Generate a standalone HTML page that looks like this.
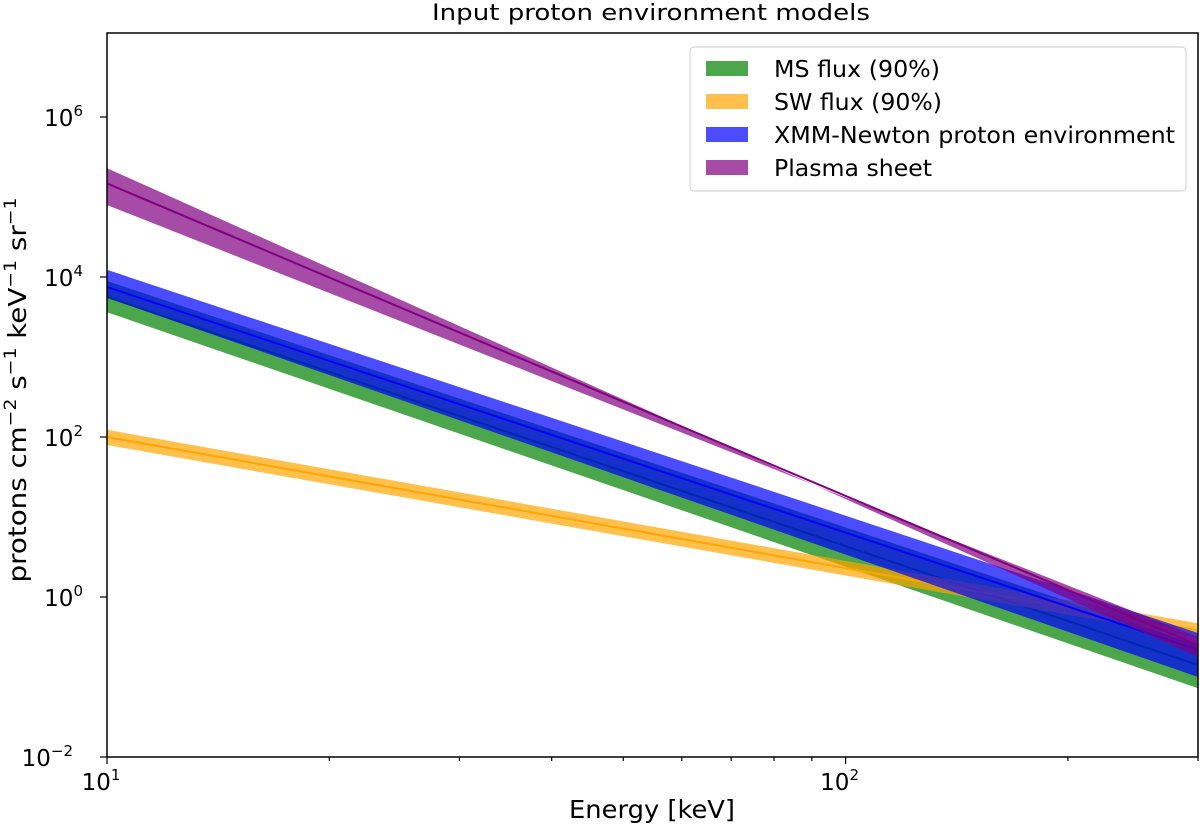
<!DOCTYPE html>
<html><head><meta charset="utf-8"><style>
body{margin:0;background:#fff;}
svg{display:block;font-family:"DejaVu Sans","Liberation Sans",sans-serif;}
</style></head><body>
<svg id="chart" width="1200" height="829">
<text x="651" y="20" font-size="22" text-anchor="middle" textLength="438" lengthAdjust="spacingAndGlyphs">Input proton environment models</text>
<g id="plot"></g>
<g id="axes"></g>
<text x="652" y="818" font-size="25" text-anchor="middle" textLength="166" lengthAdjust="spacingAndGlyphs">Energy [keV]</text>
<text transform="translate(26,390) rotate(-90)" font-size="25" text-anchor="middle" textLength="385" lengthAdjust="spacingAndGlyphs">protons cm<tspan dy="-10" font-size="17">−2</tspan><tspan dy="10"> s</tspan><tspan dy="-10" font-size="17">−1</tspan><tspan dy="10"> keV</tspan><tspan dy="-10" font-size="17">−1</tspan><tspan dy="10"> sr</tspan><tspan dy="-10" font-size="17">−1</tspan></text>
<g>
<rect x="690" y="47" width="496" height="144" rx="4" fill="#fff" stroke="#ccc"/>
<g><rect x="706" y="61" width="42" height="15" fill="#008000" fill-opacity="0.7"/><text x="774" y="77" font-size="23" textLength="166" lengthAdjust="spacingAndGlyphs">MS flux (90%)</text></g>
<g><rect x="706" y="94" width="42" height="15" fill="#ffa500" fill-opacity="0.7"/><text x="774" y="110" font-size="23" textLength="168" lengthAdjust="spacingAndGlyphs">SW flux (90%)</text></g>
<g><rect x="706" y="127" width="42" height="15" fill="#0000ff" fill-opacity="0.7"/><text x="774" y="143" font-size="23" textLength="401" lengthAdjust="spacingAndGlyphs">XMM-Newton proton environment</text></g>
<g><rect x="706" y="160" width="42" height="15" fill="#800080" fill-opacity="0.7"/><text x="774" y="176" font-size="23" textLength="158" lengthAdjust="spacingAndGlyphs">Plasma sheet</text></g>
</g>
</svg>
<script>
// energies (keV) at band endpoints
const energies = [10, 300];
// log10 flux values: [at 10 keV, at 300 keV]
const msUpper = [3.95, -0.6], msCenter = [3.75, -0.85], msLower = [3.56, -1.14];
const swUpper = [2.09, -0.33], swCenter = [2.0, -0.42], swLower = [1.9, -0.51];
const xmmUpper = [4.09, -0.45], xmmCenter = [3.875, -0.66], xmmLower = [3.74, -1.0];
const psUpper = [5.36, -0.75], psCenter = [5.17, -0.6], psLower = [4.9, -0.5];
const xTickVals = [10, 100];
const xTickLabels = ["1", "2"];
const yTickExps = [-2, 0, 2, 4, 6];

const X0 = 107, X1 = 1198, Y0 = 757, Y1 = 33;
const xMinL = 1, xMaxL = Math.log10(300);
const yMinL = -2, yMaxL = -2 + (Y0 - Y1) / 80;
const xs = v => X0 + (Math.log10(v) - xMinL) / (xMaxL - xMinL) * (X1 - X0);
const ys = l => Y0 - (l - yMinL) / (yMaxL - yMinL) * (Y0 - Y1);
const NS = "http://www.w3.org/2000/svg";
const plot = document.getElementById('plot');
const axes = document.getElementById('axes');

function band(up, lo, ce, color, name) {
  const p = document.createElementNS(NS, 'polygon');
  const pts = [[xs(energies[0]), ys(up[0])], [xs(energies[1]), ys(up[1])], [xs(energies[1]), ys(lo[1])], [xs(energies[0]), ys(lo[0])]];
  p.setAttribute('points', pts.map(a => a.join(',')).join(' '));
  p.setAttribute('fill', color);
  p.setAttribute('fill-opacity', '0.7');
  
  
  plot.appendChild(p);
  const l = document.createElementNS(NS, 'line');
  l.setAttribute('x1', xs(energies[0])); l.setAttribute('y1', ys(ce[0]));
  l.setAttribute('x2', xs(energies[1])); l.setAttribute('y2', ys(ce[1]));
  l.setAttribute('stroke', color); l.setAttribute('stroke-width', '2');
  
  
  plot.appendChild(l);
}
band(msUpper, msLower, msCenter, '#008000', 'ms-flux');
band(swUpper, swLower, swCenter, '#ffa500', 'sw-flux');
band(xmmUpper, xmmLower, xmmCenter, '#0000ff', 'xmm-newton');
band(psUpper, psLower, psCenter, '#800080', 'plasma-sheet');

const fr = document.createElementNS(NS, 'rect');
fr.setAttribute('x', X0); fr.setAttribute('y', Y1); fr.setAttribute('width', X1 - X0); fr.setAttribute('height', Y0 - Y1);
fr.setAttribute('fill', 'none'); fr.setAttribute('stroke', '#000'); fr.setAttribute('stroke-width', '1.5');


axes.appendChild(fr);

function tick(x1, y1, x2, y2) {
  const t = document.createElementNS(NS, 'line');
  t.setAttribute('x1', x1); t.setAttribute('y1', y1); t.setAttribute('x2', x2); t.setAttribute('y2', y2);
  t.setAttribute('stroke', '#000'); t.setAttribute('stroke-width', '1.2');
  
  
  axes.appendChild(t);
}
for (let d = 10; d <= 100; d *= 10) for (let m = 1; m <= 9; m++) {
  const v = d * m; if (v > 300) break;
  tick(xs(v), Y0, xs(v), Y0 + (m === 1 ? 7 : 4));
}
xTickVals.forEach((v, i) => {
  const t = document.createElementNS(NS, 'text');
  t.setAttribute('x', xs(v) - 6); t.setAttribute('y', Y0 + 33);
  t.setAttribute('font-size', '23'); t.setAttribute('text-anchor', 'middle');
  t.innerHTML = '10<tspan dy="-10" font-size="15">' + xTickLabels[i] + '</tspan>';
  
  
  axes.appendChild(t);
});
yTickExps.forEach(e => {
  tick(X0 - 7, ys(e), X0, ys(e));
  const t = document.createElementNS(NS, 'text');
  t.setAttribute('y', ys(e) + 9);
  t.setAttribute('font-size', '23');
  t.textContent = '10';
  
  
  const s = document.createElementNS(NS, 'tspan');
  s.setAttribute('dy', '-10'); s.setAttribute('font-size', '15');
  s.textContent = e < 0 ? '−' + (-e) : String(e);
  t.appendChild(s);
  t.setAttribute('x', X0 - 14 - (e < 0 ? 20 : 10));
  t.setAttribute('text-anchor', 'end');
  axes.appendChild(t);
});
</script>
</body></html>
